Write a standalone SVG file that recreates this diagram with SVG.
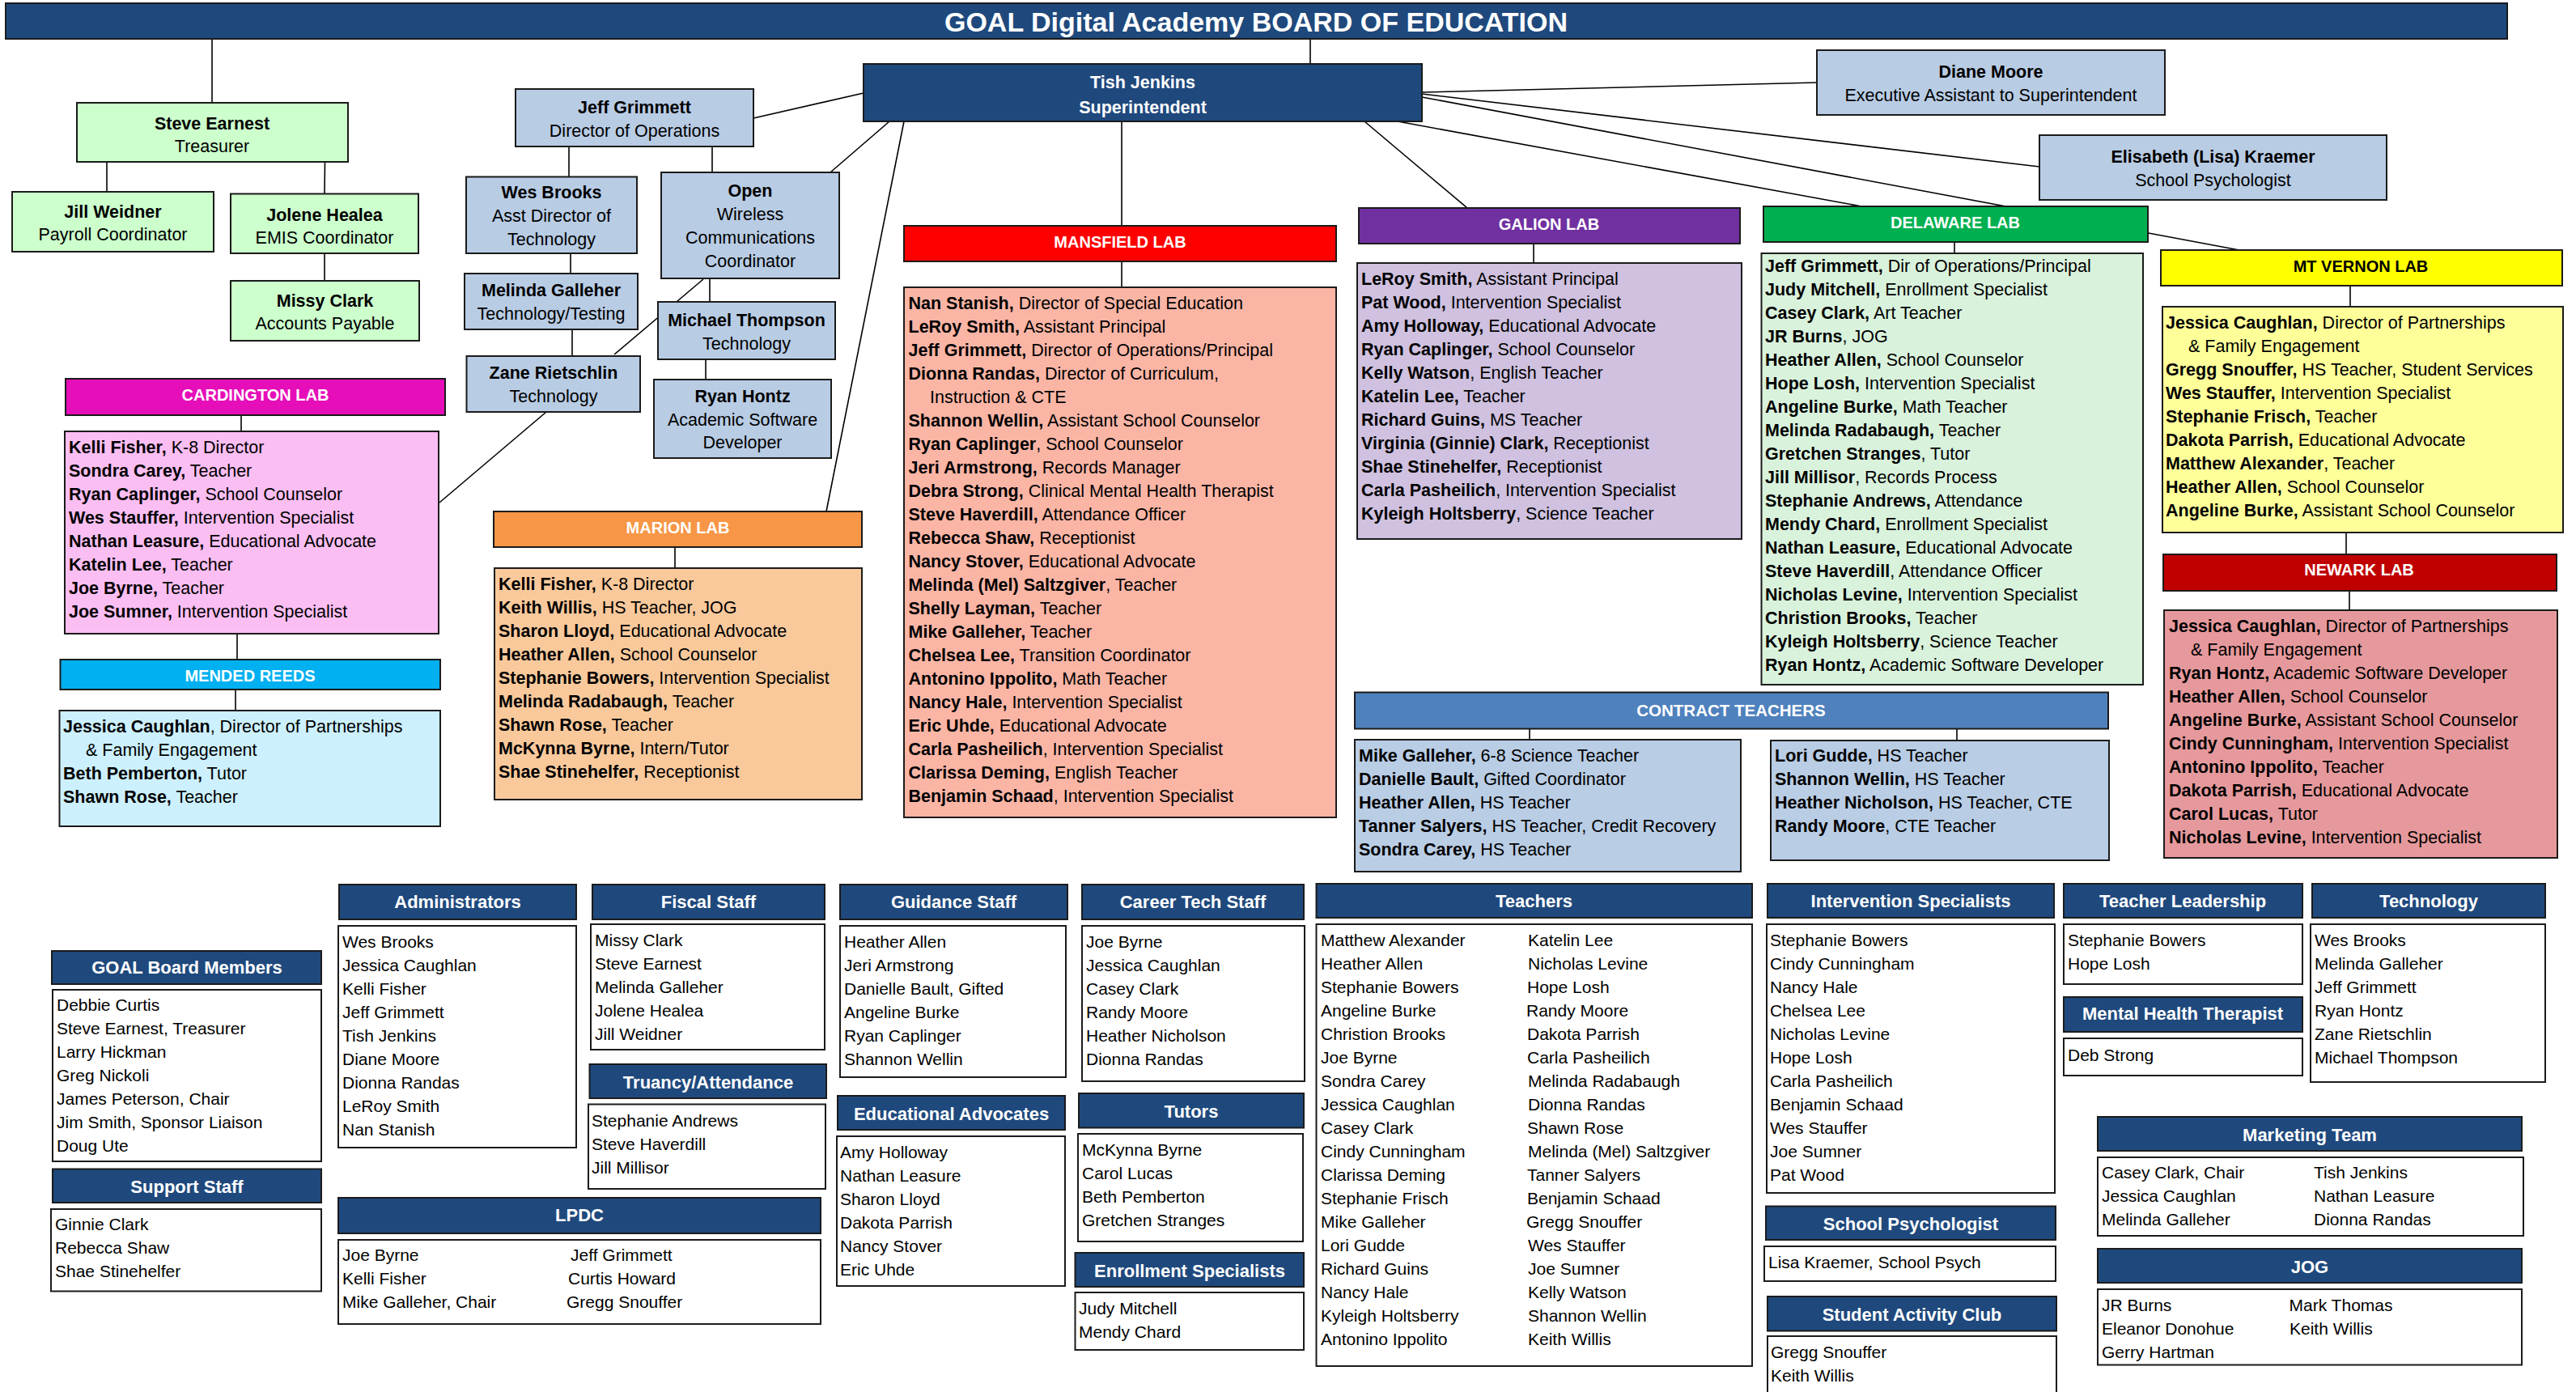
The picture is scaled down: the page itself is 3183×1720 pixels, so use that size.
<svg xmlns="http://www.w3.org/2000/svg" width="3183" height="1720" viewBox="0 0 3183 1720">
<style>
text{font-family:"Liberation Sans",Arial,sans-serif;fill:#000}
.box{stroke:#1b1b1b;stroke-width:2}
.c{stroke:#000;stroke-width:1.6;fill:none}
.nt{font-size:21.5px;text-anchor:middle}
.lt{font-size:21.5px}
.bt{font-size:21px}
.hd{font-size:20px;font-weight:bold;fill:#fff;text-anchor:middle}
.bh{font-size:22px;font-weight:bold;fill:#fff;text-anchor:middle}
.b{font-weight:bold}
.w{fill:#fff;font-weight:bold}
.dk{fill:#1F497D}
.lb{fill:#B8CCE4}
.lg{fill:#CCFFCC}
.wh{fill:#fff}
</style>
<g id="connectors">
<line class="c" x1="1619" y1="48" x2="1619" y2="79"/>
<line class="c" x1="262" y1="48" x2="262" y2="127"/>
<line class="c" x1="132" y1="200" x2="132" y2="237"/>
<line class="c" x1="401.5" y1="200" x2="401" y2="239.5"/>
<line class="c" x1="401" y1="313" x2="401" y2="347"/>
<line class="c" x1="1067" y1="115" x2="931" y2="146"/>
<line class="c" x1="703" y1="181" x2="703" y2="218.5"/>
<line class="c" x1="705" y1="313" x2="705" y2="338"/>
<line class="c" x1="707" y1="407" x2="707" y2="440"/>
<line class="c" x1="675" y1="509" x2="543" y2="621"/>
<line class="c" x1="880" y1="181" x2="880" y2="213"/>
<line class="c" x1="1099" y1="150" x2="1026" y2="213"/>
<line class="c" x1="877" y1="344" x2="877" y2="373"/>
<line class="c" x1="872" y1="444" x2="872" y2="469"/>
<line class="c" x1="869" y1="345" x2="759" y2="438"/>
<line class="c" x1="1117" y1="150" x2="1021" y2="632"/>
<line class="c" x1="1386" y1="150" x2="1386" y2="279"/>
<line class="c" x1="1386" y1="323" x2="1386" y2="355"/>
<line class="c" x1="1686" y1="150" x2="1813" y2="257"/>
<line class="c" x1="1895" y1="301" x2="1895" y2="325"/>
<line class="c" x1="1727" y1="150" x2="2300" y2="255"/>
<line class="c" x1="1757" y1="114" x2="2245" y2="102"/>
<line class="c" x1="1757" y1="116" x2="2520" y2="206"/>
<line class="c" x1="1757" y1="120" x2="2767" y2="309"/>
<line class="c" x1="2415" y1="299" x2="2415" y2="313"/>
<line class="c" x1="2904" y1="353" x2="2904" y2="379"/>
<line class="c" x1="2899" y1="658" x2="2899" y2="685"/>
<line class="c" x1="2903" y1="730" x2="2903" y2="754"/>
<line class="c" x1="298" y1="513" x2="298" y2="533"/>
<line class="c" x1="293" y1="783" x2="293" y2="815"/>
<line class="c" x1="291" y1="852" x2="291" y2="878"/>
<line class="c" x1="834" y1="676" x2="834" y2="702"/>
<line class="c" x1="1890" y1="900" x2="1890" y2="914"/>
<line class="c" x1="2418" y1="901" x2="2418" y2="915"/>
</g>

<g id="title"><rect class="box dk" x="7" y="4" width="3091" height="44"/>
<text x="1552" y="38.5" text-anchor="middle" style="font-size:34px;font-weight:bold;fill:#fff">GOAL Digital Academy BOARD OF EDUCATION</text></g>

<g id="steve-earnest"><rect class="box lg" x="95" y="127" width="335" height="73"/>
<text class="nt" x="262" y="160"><tspan class="b">Steve Earnest</tspan></text><text class="nt" x="262" y="188">Treasurer</text></g>
<g id="jill-weidner"><rect class="box lg" x="15" y="237" width="249" height="74"/>
<text class="nt b" x="139.5" y="269">Jill Weidner</text><text class="nt" x="139.5" y="297">Payroll Coordinator</text></g>
<g id="jolene-healea"><rect class="box lg" x="285" y="239.5" width="232" height="73.5"/>
<text class="nt b" x="401" y="273">Jolene Healea</text><text class="nt" x="401" y="301">EMIS Coordinator</text></g>
<g id="missy-clark"><rect class="box lg" x="285" y="347" width="233" height="74"/>
<text class="nt b" x="401.5" y="379">Missy Clark</text><text class="nt" x="401.5" y="407">Accounts Payable</text></g>

<g id="jeff-grimmett"><rect class="box lb" x="637" y="110" width="294" height="71"/>
<text class="nt b" x="784" y="140">Jeff Grimmett</text><text class="nt" x="784" y="169">Director of Operations</text></g>
<g id="wes-brooks"><rect class="box lb" x="576" y="218.5" width="211" height="94.5"/>
<text class="nt b" x="681.5" y="245">Wes Brooks</text><text class="nt" x="681.5" y="274">Asst Director of</text><text class="nt" x="681.5" y="303">Technology</text></g>
<g id="melinda-galleher"><rect class="box lb" x="574" y="338" width="214" height="69"/>
<text class="nt b" x="681" y="366">Melinda Galleher</text><text class="nt" x="681" y="395">Technology/Testing</text></g>
<g id="zane-rietschlin"><rect class="box lb" x="576.5" y="440" width="214.5" height="69"/>
<text class="nt b" x="684" y="468">Zane Rietschlin</text><text class="nt" x="684" y="497">Technology</text></g>
<g id="open-wireless"><rect class="box lb" x="817" y="213" width="220" height="131"/>
<text class="nt b" x="927" y="243">Open</text><text class="nt" x="927" y="272">Wireless</text><text class="nt" x="927" y="301">Communications</text><text class="nt" x="927" y="330">Coordinator</text></g>
<g id="michael-thompson"><rect class="box lb" x="813" y="373" width="219" height="71"/>
<text class="nt b" x="922.5" y="403">Michael Thompson</text><text class="nt" x="922.5" y="432">Technology</text></g>
<g id="ryan-hontz"><rect class="box lb" x="808" y="469" width="219" height="97"/>
<text class="nt b" x="917.5" y="497">Ryan Hontz</text><text class="nt" x="917.5" y="525.5">Academic Software</text><text class="nt" x="917.5" y="554">Developer</text></g>

<g id="tish-jenkins"><rect class="box dk" x="1067" y="79" width="690" height="71"/>
<text class="nt w" x="1412" y="109">Tish Jenkins</text><text class="nt w" x="1412" y="140">Superintendent</text></g>
<g id="diane-moore"><rect class="box lb" x="2245" y="62" width="430" height="80"/>
<text class="nt b" x="2460" y="96">Diane Moore</text><text class="nt" x="2460" y="125">Executive Assistant to Superintendent</text></g>
<g id="elisabeth-kraemer"><rect class="box lb" x="2520" y="167" width="429" height="80"/>
<text class="nt b" x="2734.5" y="201">Elisabeth (Lisa) Kraemer</text><text class="nt" x="2734.5" y="230">School Psychologist</text></g>

<g id="cardington-lab"><rect class="box" fill="#E60EB8" x="81" y="468" width="469" height="45"/>
<text class="hd" x="315.5" y="495">CARDINGTON LAB</text></g>
<g id="cardington-staff"><rect class="box" fill="#FBBEF3" x="80" y="533" width="462" height="250"/>
<text class="lt" x="85" y="560"><tspan class="b">Kelli Fisher,</tspan> K-8 Director<tspan x="85" dy="29"><tspan class="b">Sondra Carey,</tspan> Teacher</tspan><tspan x="85" dy="29"><tspan class="b">Ryan Caplinger,</tspan> School Counselor</tspan><tspan x="85" dy="29"><tspan class="b">Wes Stauffer,</tspan> Intervention Specialist</tspan><tspan x="85" dy="29"><tspan class="b">Nathan Leasure,</tspan> Educational Advocate</tspan><tspan x="85" dy="29"><tspan class="b">Katelin Lee,</tspan> Teacher</tspan><tspan x="85" dy="29"><tspan class="b">Joe Byrne,</tspan> Teacher</tspan><tspan x="85" dy="29"><tspan class="b">Joe Sumner,</tspan> Intervention Specialist</tspan></text></g>

<g id="mended-reeds"><rect class="box" fill="#00B0F0" x="74.5" y="815" width="469.5" height="37"/>
<text class="hd" x="309" y="842">MENDED REEDS</text></g>
<g id="mended-reeds-staff"><rect class="box" fill="#CCF0FE" x="73.5" y="878" width="470.5" height="143"/>
<text class="lt" x="78" y="905"><tspan class="b">Jessica Caughlan</tspan>, Director of Partnerships<tspan x="106" dy="29">&amp; Family Engagement</tspan><tspan x="78" dy="29"><tspan class="b">Beth Pemberton,</tspan> Tutor</tspan><tspan x="78" dy="29"><tspan class="b">Shawn Rose,</tspan> Teacher</tspan></text></g>

<g id="marion-lab"><rect class="box" fill="#F79646" x="610" y="632" width="455" height="44"/>
<text class="hd" x="837.5" y="659">MARION LAB</text></g>
<g id="marion-staff"><rect class="box" fill="#F9C99B" x="611" y="702" width="454" height="286"/>
<text class="lt" x="616" y="729"><tspan class="b">Kelli Fisher,</tspan> K-8 Director<tspan x="616" dy="29"><tspan class="b">Keith Willis,</tspan> HS Teacher, JOG</tspan><tspan x="616" dy="29"><tspan class="b">Sharon Lloyd,</tspan> Educational Advocate</tspan><tspan x="616" dy="29"><tspan class="b">Heather Allen,</tspan> School Counselor</tspan><tspan x="616" dy="29"><tspan class="b">Stephanie Bowers,</tspan> Intervention Specialist</tspan><tspan x="616" dy="29"><tspan class="b">Melinda Radabaugh,</tspan> Teacher</tspan><tspan x="616" dy="29"><tspan class="b">Shawn Rose,</tspan> Teacher</tspan><tspan x="616" dy="29"><tspan class="b">McKynna Byrne,</tspan> Intern/Tutor</tspan><tspan x="616" dy="29"><tspan class="b">Shae Stinehelfer,</tspan> Receptionist</tspan></text></g>

<g id="mansfield-lab"><rect class="box" fill="#FF0000" x="1117" y="279" width="534" height="44"/>
<text class="hd" x="1384" y="306">MANSFIELD LAB</text></g>
<g id="mansfield-staff"><rect class="box" fill="#FBB5A5" x="1117" y="355" width="534" height="655"/>
<text class="lt" x="1122.5" y="382"><tspan class="b">Nan Stanish,</tspan> Director of Special Education<tspan x="1122.5" dy="29"><tspan class="b">LeRoy Smith,</tspan> Assistant Principal</tspan><tspan x="1122.5" dy="29"><tspan class="b">Jeff Grimmett,</tspan> Director of Operations/Principal</tspan><tspan x="1122.5" dy="29"><tspan class="b">Dionna Randas,</tspan> Director of Curriculum,</tspan><tspan x="1149" dy="29">Instruction &amp; CTE</tspan><tspan x="1122.5" dy="29"><tspan class="b">Shannon Wellin,</tspan> Assistant School Counselor</tspan><tspan x="1122.5" dy="29"><tspan class="b">Ryan Caplinger</tspan>, School Counselor</tspan><tspan x="1122.5" dy="29"><tspan class="b">Jeri Armstrong,</tspan> Records Manager</tspan><tspan x="1122.5" dy="29"><tspan class="b">Debra Strong,</tspan> Clinical Mental Health Therapist</tspan><tspan x="1122.5" dy="29"><tspan class="b">Steve Haverdill,</tspan> Attendance Officer</tspan><tspan x="1122.5" dy="29"><tspan class="b">Rebecca Shaw,</tspan> Receptionist</tspan><tspan x="1122.5" dy="29"><tspan class="b">Nancy Stover,</tspan> Educational Advocate</tspan><tspan x="1122.5" dy="29"><tspan class="b">Melinda (Mel) Saltzgiver</tspan>, Teacher</tspan><tspan x="1122.5" dy="29"><tspan class="b">Shelly Layman,</tspan> Teacher</tspan><tspan x="1122.5" dy="29"><tspan class="b">Mike Galleher,</tspan> Teacher</tspan><tspan x="1122.5" dy="29"><tspan class="b">Chelsea Lee,</tspan> Transition Coordinator</tspan><tspan x="1122.5" dy="29"><tspan class="b">Antonino Ippolito,</tspan> Math Teacher</tspan><tspan x="1122.5" dy="29"><tspan class="b">Nancy Hale,</tspan> Intervention Specialist</tspan><tspan x="1122.5" dy="29"><tspan class="b">Eric Uhde,</tspan> Educational Advocate</tspan><tspan x="1122.5" dy="29"><tspan class="b">Carla Pasheilich</tspan>, Intervention Specialist</tspan><tspan x="1122.5" dy="29"><tspan class="b">Clarissa Deming,</tspan> English Teacher</tspan><tspan x="1122.5" dy="29"><tspan class="b">Benjamin Schaad</tspan>, Intervention Specialist</tspan></text></g>

<g id="galion-lab"><rect class="box" fill="#7030A0" x="1679" y="257" width="471" height="44"/>
<text class="hd" x="1914" y="284">GALION LAB</text></g>
<g id="galion-staff"><rect class="box" fill="#CFC1DF" x="1677" y="325" width="475" height="341"/>
<text class="lt" x="1682" y="352"><tspan class="b">LeRoy Smith,</tspan> Assistant Principal<tspan x="1682" dy="29"><tspan class="b">Pat Wood,</tspan> Intervention Specialist</tspan><tspan x="1682" dy="29"><tspan class="b">Amy Holloway,</tspan> Educational Advocate</tspan><tspan x="1682" dy="29"><tspan class="b">Ryan Caplinger,</tspan> School Counselor</tspan><tspan x="1682" dy="29"><tspan class="b">Kelly Watson</tspan>, English Teacher</tspan><tspan x="1682" dy="29"><tspan class="b">Katelin Lee,</tspan> Teacher</tspan><tspan x="1682" dy="29"><tspan class="b">Richard Guins,</tspan> MS Teacher</tspan><tspan x="1682" dy="29"><tspan class="b">Virginia (Ginnie) Clark,</tspan> Receptionist</tspan><tspan x="1682" dy="29"><tspan class="b">Shae Stinehelfer,</tspan> Receptionist</tspan><tspan x="1682" dy="29"><tspan class="b">Carla Pasheilich</tspan>, Intervention Specialist</tspan><tspan x="1682" dy="29"><tspan class="b">Kyleigh Holtsberry</tspan>, Science Teacher</tspan></text></g>

<g id="delaware-lab"><rect class="box" fill="#00B050" x="2179" y="255" width="475" height="44"/>
<text class="hd" x="2416" y="282">DELAWARE LAB</text></g>
<g id="delaware-staff"><rect class="box" fill="#D9F2DC" x="2176.5" y="313" width="471.5" height="533"/>
<text class="lt" x="2181" y="335.5"><tspan class="b">Jeff Grimmett,</tspan> Dir of Operations/Principal<tspan x="2181" dy="29"><tspan class="b">Judy Mitchell,</tspan> Enrollment Specialist</tspan><tspan x="2181" dy="29"><tspan class="b">Casey Clark,</tspan> Art Teacher</tspan><tspan x="2181" dy="29"><tspan class="b">JR Burns</tspan>, JOG</tspan><tspan x="2181" dy="29"><tspan class="b">Heather Allen,</tspan> School Counselor</tspan><tspan x="2181" dy="29"><tspan class="b">Hope Losh,</tspan> Intervention Specialist</tspan><tspan x="2181" dy="29"><tspan class="b">Angeline Burke,</tspan> Math Teacher</tspan><tspan x="2181" dy="29"><tspan class="b">Melinda Radabaugh,</tspan> Teacher</tspan><tspan x="2181" dy="29"><tspan class="b">Gretchen Stranges</tspan>, Tutor</tspan><tspan x="2181" dy="29"><tspan class="b">Jill Millisor</tspan>, Records Process</tspan><tspan x="2181" dy="29"><tspan class="b">Stephanie Andrews,</tspan> Attendance</tspan><tspan x="2181" dy="29"><tspan class="b">Mendy Chard,</tspan> Enrollment Specialist</tspan><tspan x="2181" dy="29"><tspan class="b">Nathan Leasure,</tspan> Educational Advocate</tspan><tspan x="2181" dy="29"><tspan class="b">Steve Haverdill</tspan>, Attendance Officer</tspan><tspan x="2181" dy="29"><tspan class="b">Nicholas Levine,</tspan> Intervention Specialist</tspan><tspan x="2181" dy="29"><tspan class="b">Christion Brooks,</tspan> Teacher</tspan><tspan x="2181" dy="29"><tspan class="b">Kyleigh Holtsberry</tspan>, Science Teacher</tspan><tspan x="2181" dy="29"><tspan class="b">Ryan Hontz,</tspan> Academic Software Developer</tspan></text></g>

<g id="mt-vernon-lab"><rect class="box" fill="#FFFF00" x="2670" y="309" width="496" height="44"/>
<text class="hd" style="fill:#000" x="2917" y="335.5">MT VERNON LAB</text></g>
<g id="mt-vernon-staff"><rect class="box" fill="#FFFF99" x="2672" y="379" width="495" height="279"/>
<text class="lt" x="2676" y="406"><tspan class="b">Jessica Caughlan,</tspan> Director of Partnerships<tspan x="2704" dy="29">&amp; Family Engagement</tspan><tspan x="2676" dy="29"><tspan class="b">Gregg Snouffer,</tspan> HS Teacher, Student Services</tspan><tspan x="2676" dy="29"><tspan class="b">Wes Stauffer,</tspan> Intervention Specialist</tspan><tspan x="2676" dy="29"><tspan class="b">Stephanie Frisch,</tspan> Teacher</tspan><tspan x="2676" dy="29"><tspan class="b">Dakota Parrish,</tspan> Educational Advocate</tspan><tspan x="2676" dy="29"><tspan class="b">Matthew Alexander</tspan>, Teacher</tspan><tspan x="2676" dy="29"><tspan class="b">Heather Allen,</tspan> School Counselor</tspan><tspan x="2676" dy="29"><tspan class="b">Angeline Burke,</tspan> Assistant School Counselor</tspan></text></g>

<g id="newark-lab"><rect class="box" fill="#C00000" x="2673" y="685" width="486" height="45"/>
<text class="hd" x="2915" y="711">NEWARK LAB</text></g>
<g id="newark-staff"><rect class="box" fill="#E6999C" x="2674" y="754" width="486" height="306"/>
<text class="lt" x="2680" y="781"><tspan class="b">Jessica Caughlan,</tspan> Director of Partnerships<tspan x="2707" dy="29">&amp; Family Engagement</tspan><tspan x="2680" dy="29"><tspan class="b">Ryan Hontz,</tspan> Academic Software Developer</tspan><tspan x="2680" dy="29"><tspan class="b">Heather Allen,</tspan> School Counselor</tspan><tspan x="2680" dy="29"><tspan class="b">Angeline Burke,</tspan> Assistant School Counselor</tspan><tspan x="2680" dy="29"><tspan class="b">Cindy Cunningham,</tspan> Intervention Specialist</tspan><tspan x="2680" dy="29"><tspan class="b">Antonino Ippolito,</tspan> Teacher</tspan><tspan x="2680" dy="29"><tspan class="b">Dakota Parrish,</tspan> Educational Advocate</tspan><tspan x="2680" dy="29"><tspan class="b">Carol Lucas,</tspan> Tutor</tspan><tspan x="2680" dy="29"><tspan class="b">Nicholas Levine,</tspan> Intervention Specialist</tspan></text></g>

<g id="contract-teachers"><rect class="box" fill="#4F81BD" x="1674" y="855.5" width="931" height="45"/>
<text class="hd" style="font-size:20.5px" x="2139" y="885">CONTRACT TEACHERS</text></g>
<g id="contract-teachers-1"><rect class="box" fill="#B9CDE5" x="1674" y="914" width="477" height="163"/>
<text class="lt" x="1679" y="941"><tspan class="b">Mike Galleher,</tspan> 6-8  Science Teacher<tspan x="1679" dy="29"><tspan class="b">Danielle Bault,</tspan> Gifted Coordinator</tspan><tspan x="1679" dy="29"><tspan class="b">Heather Allen,</tspan> HS Teacher</tspan><tspan x="1679" dy="29"><tspan class="b">Tanner Salyers,</tspan> HS Teacher, Credit Recovery</tspan><tspan x="1679" dy="29"><tspan class="b">Sondra Carey,</tspan> HS Teacher</tspan></text></g>
<g id="contract-teachers-2"><rect class="box" fill="#B9CDE5" x="2188" y="915" width="418" height="148"/>
<text class="lt" x="2193" y="941"><tspan class="b">Lori Gudde,</tspan> HS Teacher<tspan x="2193" dy="29"><tspan class="b">Shannon Wellin,</tspan> HS Teacher</tspan><tspan x="2193" dy="29"><tspan class="b">Heather Nicholson,</tspan> HS Teacher, CTE</tspan><tspan x="2193" dy="29"><tspan class="b">Randy Moore</tspan>, CTE Teacher</tspan></text></g>

<g id="board-members"><rect class="box dk" x="64" y="1175" width="333" height="41"/><text class="bh" x="231" y="1203">GOAL Board Members</text>
<rect class="box wh" x="65" y="1223" width="332" height="212"/>
<text class="bt" x="70" y="1249">Debbie Curtis<tspan x="70" dy="29">Steve Earnest, Treasurer</tspan><tspan x="70" dy="29">Larry Hickman</tspan><tspan x="70" dy="29">Greg Nickoli</tspan><tspan x="70" dy="29">James Peterson, Chair</tspan><tspan x="70" dy="29">Jim Smith, Sponsor Liaison</tspan><tspan x="70" dy="29">Doug Ute</tspan></text></g>
<g id="support-staff"><rect class="box dk" x="65" y="1444.5" width="332" height="41.5"/><text class="bh" x="231" y="1474">Support Staff</text>
<rect class="box wh" x="63" y="1494" width="334" height="101.5"/>
<text class="bt" x="68" y="1520">Ginnie Clark<tspan x="68" dy="29">Rebecca Shaw</tspan><tspan x="68" dy="29">Shae Stinehelfer</tspan></text></g>
<g id="administrators"><rect class="box dk" x="419" y="1093" width="293" height="43"/><text class="bh" x="565.5" y="1122">Administrators</text>
<rect class="box wh" x="418" y="1144" width="294" height="274"/>
<text class="bt" x="423" y="1170.5">Wes Brooks<tspan x="423" dy="29">Jessica Caughlan</tspan><tspan x="423" dy="29">Kelli Fisher</tspan><tspan x="423" dy="29">Jeff Grimmett</tspan><tspan x="423" dy="29">Tish Jenkins</tspan><tspan x="423" dy="29">Diane Moore</tspan><tspan x="423" dy="29">Dionna Randas</tspan><tspan x="423" dy="29">LeRoy Smith</tspan><tspan x="423" dy="29">Nan Stanish</tspan></text></g>
<g id="lpdc"><rect class="box dk" x="418" y="1480" width="596" height="44"/><text class="bh" x="716" y="1509">LPDC</text>
<rect class="box wh" x="418" y="1532" width="596" height="104"/>
<text class="bt" x="423" y="1558">Joe Byrne<tspan x="423" dy="29">Kelli Fisher</tspan><tspan x="423" dy="29">Mike Galleher, Chair</tspan></text>
<text class="bt" x="705" y="1558">Jeff Grimmett<tspan x="702" dy="29">Curtis Howard</tspan><tspan x="700" dy="29">Gregg Snouffer</tspan></text></g>
<g id="fiscal-staff"><rect class="box dk" x="732" y="1093" width="287" height="43"/><text class="bh" x="875.5" y="1122">Fiscal Staff</text>
<rect class="box wh" x="730" y="1142" width="289" height="155"/>
<text class="bt" x="735" y="1169">Missy Clark<tspan x="735" dy="29">Steve Earnest</tspan><tspan x="735" dy="29">Melinda Galleher</tspan><tspan x="735" dy="29">Jolene Healea</tspan><tspan x="735" dy="29">Jill Weidner</tspan></text></g>
<g id="truancy-attendance"><rect class="box dk" x="728.5" y="1315" width="292.5" height="42"/><text class="bh" x="875" y="1345">Truancy/Attendance</text>
<rect class="box wh" x="727" y="1364.5" width="293" height="104.5"/>
<text class="bt" x="731" y="1392">Stephanie Andrews<tspan x="731" dy="29">Steve Haverdill</tspan><tspan x="731" dy="29">Jill Millisor</tspan></text></g>
<g id="guidance-staff"><rect class="box dk" x="1038" y="1093" width="281" height="43"/><text class="bh" x="1178.5" y="1122">Guidance Staff</text>
<rect class="box wh" x="1038" y="1144" width="279" height="187"/>
<text class="bt" x="1043" y="1171">Heather Allen<tspan x="1043" dy="29">Jeri Armstrong</tspan><tspan x="1043" dy="29">Danielle Bault, Gifted</tspan><tspan x="1043" dy="29">Angeline Burke</tspan><tspan x="1043" dy="29">Ryan Caplinger</tspan><tspan x="1043" dy="29">Shannon Wellin</tspan></text></g>
<g id="educational-advocates"><rect class="box dk" x="1035" y="1354" width="281" height="42"/><text class="bh" x="1175.5" y="1384">Educational Advocates</text>
<rect class="box wh" x="1034" y="1404" width="282" height="185"/>
<text class="bt" x="1038" y="1431">Amy Holloway<tspan x="1038" dy="29">Nathan Leasure</tspan><tspan x="1038" dy="29">Sharon Lloyd</tspan><tspan x="1038" dy="29">Dakota Parrish</tspan><tspan x="1038" dy="29">Nancy Stover</tspan><tspan x="1038" dy="29">Eric Uhde</tspan></text></g>
<g id="career-tech-staff"><rect class="box dk" x="1337" y="1093" width="274" height="43"/><text class="bh" x="1474" y="1122">Career Tech Staff</text>
<rect class="box wh" x="1337" y="1144" width="275" height="192"/>
<text class="bt" x="1342" y="1171">Joe Byrne<tspan x="1342" dy="29">Jessica Caughlan</tspan><tspan x="1342" dy="29">Casey Clark</tspan><tspan x="1342" dy="29">Randy Moore</tspan><tspan x="1342" dy="29">Heather Nicholson</tspan><tspan x="1342" dy="29">Dionna Randas</tspan></text></g>
<g id="tutors"><rect class="box dk" x="1333" y="1351" width="278" height="42.5"/><text class="bh" x="1472" y="1381">Tutors</text>
<rect class="box wh" x="1332" y="1401" width="278" height="133"/>
<text class="bt" x="1337" y="1428">McKynna Byrne<tspan x="1337" dy="29">Carol Lucas</tspan><tspan x="1337" dy="29">Beth Pemberton</tspan><tspan x="1337" dy="29">Gretchen Stranges</tspan></text></g>
<g id="enrollment-specialists"><rect class="box dk" x="1328.5" y="1548" width="282.5" height="42"/><text class="bh" x="1470" y="1578">Enrollment Specialists</text>
<rect class="box wh" x="1328.5" y="1597" width="282.5" height="71"/>
<text class="bt" x="1333" y="1624">Judy Mitchell<tspan x="1333" dy="29">Mendy Chard</tspan></text></g>
<g id="teachers"><rect class="box dk" x="1626.5" y="1092" width="538.5" height="42"/><text class="bh" x="1895.5" y="1121">Teachers</text>
<rect class="box wh" x="1626.5" y="1142" width="538.5" height="546"/>
<text class="bt" x="1632" y="1169">Matthew Alexander<tspan x="1632" dy="29">Heather Allen</tspan><tspan x="1632" dy="29">Stephanie Bowers</tspan><tspan x="1632" dy="29">Angeline Burke</tspan><tspan x="1632" dy="29">Christion Brooks</tspan><tspan x="1632" dy="29">Joe Byrne</tspan><tspan x="1632" dy="29">Sondra Carey</tspan><tspan x="1632" dy="29">Jessica Caughlan</tspan><tspan x="1632" dy="29">Casey Clark</tspan><tspan x="1632" dy="29">Cindy Cunningham</tspan><tspan x="1632" dy="29">Clarissa Deming</tspan><tspan x="1632" dy="29">Stephanie Frisch</tspan><tspan x="1632" dy="29">Mike Galleher</tspan><tspan x="1632" dy="29">Lori Gudde</tspan><tspan x="1632" dy="29">Richard Guins</tspan><tspan x="1632" dy="29">Nancy Hale</tspan><tspan x="1632" dy="29">Kyleigh Holtsberry</tspan><tspan x="1632" dy="29">Antonino Ippolito</tspan></text>
<text class="bt" x="1888" y="1169">Katelin Lee<tspan x="1888" dy="29">Nicholas Levine</tspan><tspan x="1887" dy="29">Hope Losh</tspan><tspan x="1886" dy="29">Randy Moore</tspan><tspan x="1887" dy="29">Dakota Parrish</tspan><tspan x="1887" dy="29">Carla Pasheilich</tspan><tspan x="1888" dy="29">Melinda Radabaugh</tspan><tspan x="1888" dy="29">Dionna Randas</tspan><tspan x="1887" dy="29">Shawn Rose</tspan><tspan x="1888" dy="29">Melinda (Mel) Saltzgiver</tspan><tspan x="1887" dy="29">Tanner Salyers</tspan><tspan x="1887" dy="29">Benjamin Schaad</tspan><tspan x="1886" dy="29">Gregg Snouffer</tspan><tspan x="1888" dy="29">Wes Stauffer</tspan><tspan x="1888" dy="29">Joe Sumner</tspan><tspan x="1888" dy="29">Kelly Watson</tspan><tspan x="1888" dy="29">Shannon Wellin</tspan><tspan x="1888" dy="29">Keith Willis</tspan></text></g>
<g id="intervention-specialists"><rect class="box dk" x="2184" y="1092" width="354" height="42"/><text class="bh" x="2361" y="1121">Intervention Specialists</text>
<rect class="box wh" x="2183" y="1142" width="356" height="332"/>
<text class="bt" x="2187" y="1169">Stephanie Bowers<tspan x="2187" dy="29">Cindy Cunningham</tspan><tspan x="2187" dy="29">Nancy Hale</tspan><tspan x="2187" dy="29">Chelsea Lee</tspan><tspan x="2187" dy="29">Nicholas Levine</tspan><tspan x="2187" dy="29">Hope Losh</tspan><tspan x="2187" dy="29">Carla Pasheilich</tspan><tspan x="2187" dy="29">Benjamin Schaad</tspan><tspan x="2187" dy="29">Wes Stauffer</tspan><tspan x="2187" dy="29">Joe Sumner</tspan><tspan x="2187" dy="29">Pat Wood</tspan></text></g>
<g id="school-psychologist"><rect class="box dk" x="2182" y="1490.5" width="358" height="41.5"/><text class="bh" x="2361" y="1520">School Psychologist</text>
<rect class="box wh" x="2180" y="1540" width="360" height="43"/>
<text class="bt" x="2185" y="1567">Lisa Kraemer, School Psych</text></g>
<g id="student-activity-club"><rect class="box dk" x="2184" y="1602" width="357" height="42.5"/><text class="bh" x="2362.5" y="1632">Student Activity Club</text>
<rect class="box wh" x="2184" y="1651" width="357" height="80"/>
<text class="bt" x="2188" y="1678">Gregg Snouffer<tspan x="2188" dy="29">Keith Willis</tspan></text></g>
<g id="teacher-leadership"><rect class="box dk" x="2550" y="1092" width="295" height="42"/><text class="bh" x="2697" y="1121">Teacher Leadership</text>
<rect class="box wh" x="2550" y="1142" width="295" height="74"/>
<text class="bt" x="2555" y="1169">Stephanie Bowers<tspan x="2555" dy="29">Hope Losh</tspan></text></g>
<g id="mental-health-therapist"><rect class="box dk" x="2550" y="1232" width="295" height="43"/><text class="bh" x="2697" y="1260">Mental Health Therapist</text>
<rect class="box wh" x="2550" y="1283" width="295" height="46"/>
<text class="bt" x="2555" y="1310.5">Deb Strong</text></g>
<g id="technology"><rect class="box dk" x="2857" y="1092" width="288" height="42"/><text class="bh" x="3001" y="1121">Technology</text>
<rect class="box wh" x="2855" y="1142" width="290" height="195"/>
<text class="bt" x="2860" y="1169">Wes Brooks<tspan x="2860" dy="29">Melinda Galleher</tspan><tspan x="2860" dy="29">Jeff Grimmett</tspan><tspan x="2860" dy="29">Ryan Hontz</tspan><tspan x="2860" dy="29">Zane Rietschlin</tspan><tspan x="2860" dy="29">Michael Thompson</tspan></text></g>
<g id="marketing-team"><rect class="box dk" x="2592" y="1380" width="524" height="42"/><text class="bh" x="2854" y="1410">Marketing Team</text>
<rect class="box wh" x="2592" y="1430" width="526" height="97"/>
<text class="bt" x="2597" y="1456">Casey Clark, Chair<tspan x="2597" dy="29">Jessica Caughlan</tspan><tspan x="2597" dy="29">Melinda Galleher</tspan></text>
<text class="bt" x="2859" y="1456">Tish Jenkins<tspan x="2859" dy="29">Nathan Leasure</tspan><tspan x="2859" dy="29">Dionna Randas</tspan></text></g>
<g id="jog"><rect class="box dk" x="2592" y="1543" width="524" height="42"/><text class="bh" x="2854" y="1573">JOG</text>
<rect class="box wh" x="2592" y="1593" width="524" height="93.5"/>
<text class="bt" x="2597" y="1620">JR Burns<tspan x="2597" dy="29">Eleanor Donohue</tspan><tspan x="2597" dy="29">Gerry Hartman</tspan></text>
<text class="bt" x="2828.5" y="1620">Mark Thomas<tspan x="2829" dy="29">Keith Willis</tspan></text></g>
</svg>
